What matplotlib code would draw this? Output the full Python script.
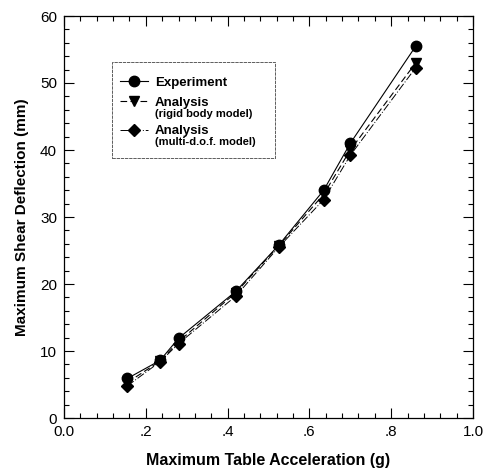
import matplotlib
matplotlib.use("Agg")
import matplotlib.pyplot as plt
from matplotlib.legend import Legend
from matplotlib.ticker import MultipleLocator, FixedLocator, FixedFormatter
from matplotlib.patches import Rectangle

plt.rcParams['font.family'] = ['Liberation Sans', 'DejaVu Sans']

# Data
accel = [0.155, 0.235, 0.28, 0.42, 0.525, 0.635, 0.70, 0.86]
experiment = [5.9, 8.6, 11.9, 18.9, 25.8, 34.0, 41.0, 55.5]
rigid = [5.3, 8.5, 11.4, 18.7, 25.7, 33.4, 40.0, 53.0]
multi = [4.8, 8.4, 11.1, 18.2, 25.5, 32.6, 39.2, 52.3]

xticks = [0.0, 0.2, 0.4, 0.6, 0.8, 1.0]
xticklabels = ["0.0", ".2", ".4", ".6", ".8", "1.0"]
yticks = [0, 10, 20, 30, 40, 50, 60]

W, H = 490, 473
fig = plt.figure(figsize=(4.9, 4.73), dpi=100)
ax = fig.add_axes([64/W, 1-418/H, (473-64)/W, (418-16)/H])

l1, = ax.plot(accel, experiment, color='black', lw=0.8, ls='-', marker='o', ms=7.5)
l2, = ax.plot(accel, rigid, color='black', lw=0.8, ls=(0, (6, 3)), marker='v', ms=7.5)
l3, = ax.plot(accel, multi, color='black', lw=0.7, ls=(0, (8, 2, 1, 2)), marker='D', ms=6)

ax.set_xlim(0, 1.0)
ax.set_ylim(0, 60)
ax.xaxis.set_major_locator(FixedLocator(xticks))
ax.xaxis.set_major_formatter(FixedFormatter(xticklabels))
ax.xaxis.set_minor_locator(MultipleLocator(0.04))
ax.yaxis.set_major_locator(FixedLocator(yticks))
ax.yaxis.set_minor_locator(MultipleLocator(2))
ax.tick_params(which='both', direction='in', top=True, right=True, width=0.8, labelsize=11)
ax.tick_params(which='major', length=7, pad=5)
ax.tick_params(which='minor', length=3.5)
for s in ax.spines.values():
    s.set_linewidth(0.9)

ax.set_xlabel('Maximum Table Acceleration (g)', fontsize=11.5, fontweight='bold', labelpad=10)
ax.set_ylabel('Maximum Shear Deflection (mm)', fontsize=11, fontweight='bold', labelpad=8)

rows = [(l1, 'Experiment', None, 83),
        (l2, 'Analysis', '(rigid body model)', 103),
        (l3, 'Analysis', '(multi-d.o.f. model)', 131)]
inv = fig.transFigure.inverted()
legs = []
for h, lab, sub, yp in rows:
    lg = Legend(ax, [h], [lab], loc='center left', bbox_to_anchor=(120/W, 1-yp/H),
                bbox_transform=fig.transFigure, frameon=False,
                prop={'weight': 'bold', 'size': 9.5}, handlelength=2.1,
                handletextpad=0.55, borderaxespad=0, borderpad=0)
    ax.add_artist(lg)
    legs.append((lg, sub))

fig.canvas.draw()
for lg, sub in legs:
    if sub is None:
        continue
    t = lg.get_texts()[0]
    bb = t.get_window_extent()
    x0, y0 = inv.transform((bb.x0, bb.y0))
    fig.text(x0, y0 + 0.5/H, sub, fontsize=8, fontweight='bold', va='top', ha='left')

fig.patches.append(Rectangle((112/W, 1-158/H), (275-112)/W, (158-62)/H,
                             transform=fig.transFigure, fill=False, lw=0.6,
                             ec='#444444', ls=(0, (4, 1))))

fig.savefig('out.png', dpi=100)
